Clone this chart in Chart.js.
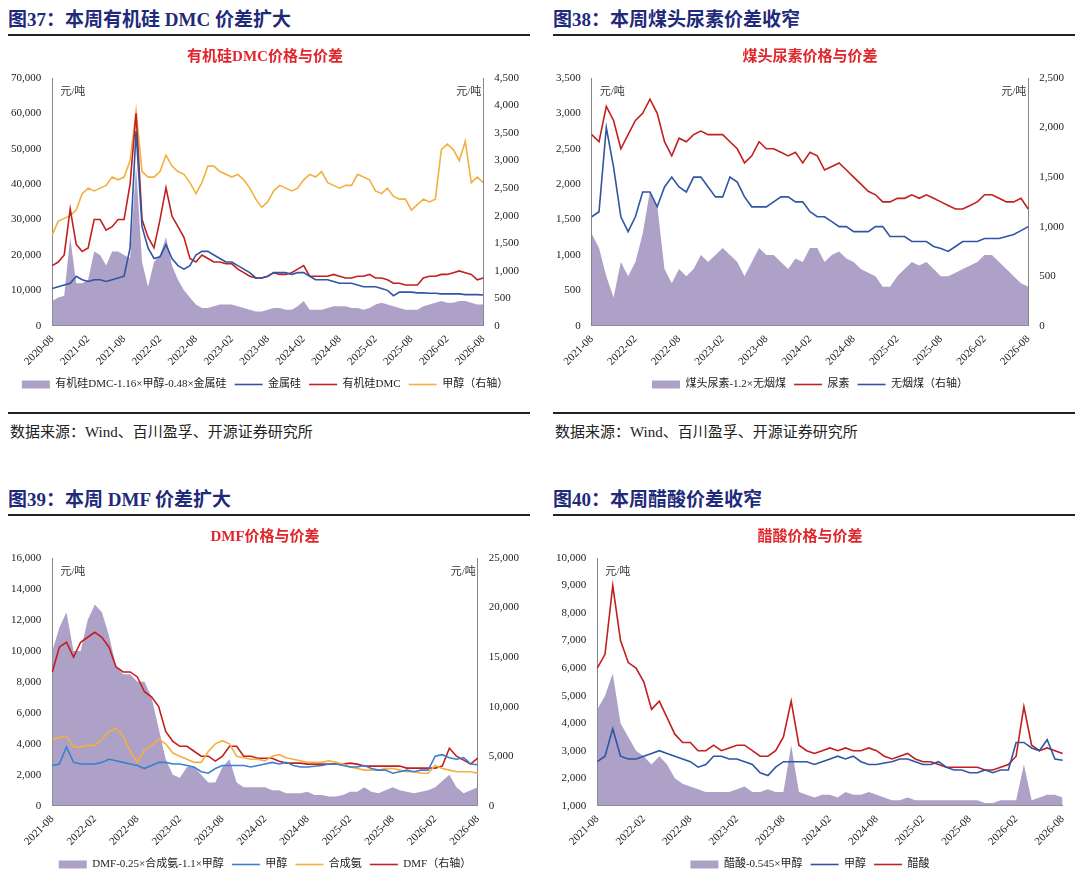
<!DOCTYPE html>
<html lang="zh">
<head>
<meta charset="UTF-8">
<title>价差周报</title>
<script src="https://cdn.jsdelivr.net/npm/chart.js"></script>
<style>
  body { margin: 0; width: 1080px; height: 885px; background: #fff; position: relative; font-family: "Liberation Serif", "Noto Sans CJK SC", serif; }
  .panel { position: absolute; width: 530px; height: 440px; }
  .panel h2 { margin: 0; position: absolute; left: 8px; top: 4px; font-size: 19px; color: #1f2a7a; font-weight: bold; }
  .panel .rule { position: absolute; left: 8px; right: 0; top: 34px; border-top: 2px solid #222; }
  .panel .cv { position: absolute; left: 0; top: 40px; width: 530px; height: 360px; }
  .panel .rule2 { position: absolute; left: 8px; right: 0; top: 412px; border-top: 2px solid #222; }
  .panel .src { position: absolute; left: 10px; top: 420px; font-size: 15px; color: #222; }
</style>
</head>
<body>
<script>
// ---- 图37 data (monthly, 2020-08 .. 2026-08)
const dmcLabels = [];
for (let y = 2020, m = 8; y < 2026 || m <= 8; ) { dmcLabels.push(y + '-' + String(m).padStart(2, '0')); m++; if (m > 12) { m = 1; y++; } }
const dmcSpread = [7000,8000,8500,25000,12000,
  12000,13000,21000,20000,17000,21000,21000,20000,19000,45000,18000,11000,
  18000,20000,25000,17000,13000,10000,8000,6000,5000,5000,5500,6000,
  6000,6000,5500,5000,4500,4000,4000,4500,5000,5000,4500,4500,
  5500,7000,4500,4500,4500,5000,5500,5500,5500,5000,5000,4500,
  5000,6000,6500,6000,5500,5000,4500,4500,4500,5500,6000,6500,
  7000,6500,6500,7000,7000,6500,6000,6000];
const siliconMetal = [10500,11000,11500,12000,14000,
  13000,12500,13000,13000,12500,13000,13500,14000,22000,55000,28000,22000,
  19000,19500,23000,19000,17000,16000,17000,20000,21000,21000,20000,19000,
  18000,18000,17000,16000,15000,13500,13500,14000,15000,15000,15000,14500,
  15000,15000,14000,13000,13000,13000,12500,12000,12000,12000,11500,11000,
  11000,11000,10500,10000,8500,9500,9500,9500,9300,9300,9200,9200,
  9000,9000,9000,9000,8800,8800,8800,8700];
const dmcPrice = [17000,18000,20000,33000,23000,
  21000,22000,30000,30000,27000,28000,30000,30000,40000,60000,30000,25000,
  22000,30000,39000,31000,28000,25000,19000,18000,20000,19000,18000,18000,
  17500,17500,16000,15000,14000,13500,13500,14000,15000,14500,14500,15000,
  16000,17000,14000,14000,14000,14000,14500,14000,13500,13500,14000,14000,
  14500,13500,13500,13000,12000,12000,11500,11500,11500,13500,14000,14000,
  14500,14500,15000,15500,15000,14500,13000,13500];
const methanolR = [1650,1900,1950,2000,2100,
  2400,2500,2450,2500,2550,2700,2650,2700,3000,3900,2800,2700,
  2700,2800,3100,2900,2800,2750,2600,2400,2600,2900,2900,2800,
  2750,2700,2750,2650,2500,2300,2150,2250,2450,2550,2500,2450,
  2500,2650,2750,2700,2800,2600,2550,2500,2550,2550,2750,2700,
  2650,2450,2400,2500,2350,2300,2300,2100,2200,2300,2250,2300,
  3200,3300,3200,3000,3350,2600,2700,2600];

// ---- 2021-08 .. 2026-08 labels
const labels21 = dmcLabels.slice(12);

// ---- 图38
const ureaSpread = [1300,1100,700,400,900,
  700,900,1300,1900,1700,800,600,800,700,800,1000,900,
  1000,1100,1000,900,700,900,1100,1000,1000,900,800,950,
  900,1100,1100,900,1000,1050,950,900,800,750,700,550,
  550,700,800,900,850,900,800,700,700,750,800,850,
  900,1000,1000,900,800,700,600,550];
const ureaPrice = [2700,2600,3100,2900,2500,
  2700,2900,3000,3200,3000,2600,2400,2650,2600,2700,2750,2700,
  2700,2700,2600,2500,2300,2400,2600,2500,2500,2450,2400,2450,
  2300,2450,2400,2200,2250,2300,2200,2100,2000,1900,1850,1750,
  1750,1800,1800,1850,1800,1850,1800,1750,1700,1650,1650,1700,
  1750,1850,1850,1800,1750,1750,1800,1650];
const anthracite = [1100,1150,2000,1600,1100,
  950,1100,1350,1350,1200,1400,1500,1400,1350,1500,1500,1400,
  1300,1300,1500,1450,1300,1200,1200,1200,1250,1300,1300,1250,
  1250,1150,1100,1100,1050,1000,1000,950,950,950,1000,1000,
  900,900,900,850,850,850,800,780,750,800,850,850,
  850,880,880,880,900,920,960,1000];

// ---- 图39
const dmfSpread = [10000,11500,12500,10000,10000,
  12000,13000,12500,11000,9000,8500,8500,8000,8000,7000,5000,3000,
  2000,1800,2500,2500,2000,1500,1500,2500,3000,1500,1200,1200,
  1200,1200,1000,1000,800,800,800,900,700,700,600,600,
  700,900,900,1200,900,800,1000,1200,1000,900,800,900,
  1000,1200,1600,2000,1200,800,1000,1200];
const methanolD = [2600,2700,3800,2800,2700,
  2700,2700,2800,3000,2900,2800,2700,2600,2400,2600,2800,2800,
  2700,2700,2600,2500,2200,2100,2400,2600,2600,2600,2600,2500,
  2600,2700,2800,2700,2800,2600,2500,2500,2550,2600,2700,2700,
  2600,2500,2500,2600,2400,2300,2300,2100,2200,2300,2200,2300,
  2300,3200,3300,3100,3000,3100,2700,2650];
const syngas = [4300,4400,4500,3800,3800,
  3900,3900,4300,4800,5000,4500,3500,2800,3600,3900,4300,4000,
  3400,3200,3000,2800,2800,3500,4000,4200,4000,3200,3100,3000,
  3000,2900,3200,3300,3100,3000,2900,2800,2800,2800,2900,2800,
  2700,2500,2400,2300,2300,2300,2400,2400,2300,2200,2200,2100,
  2100,2600,2400,2300,2200,2200,2200,2100];
const dmfPrice = [13500,16000,16500,15000,16500,
  17000,17500,17000,16000,14000,13500,13500,13000,11500,11000,10000,7500,
  6500,6000,6000,5500,5000,5000,4500,5000,6000,6000,5000,5000,
  4800,4800,4800,4500,4300,4300,4300,4200,4200,4200,4200,4200,
  4200,4300,4200,4000,4000,4000,4000,4000,4000,3800,3800,3800,
  3800,3800,4000,5800,5000,4600,4200,4800];

// ---- 图40
const aceticSpread = [4500,5000,5800,4000,3500,
  3000,2800,2500,2800,2500,2000,1800,1700,1600,1500,1500,1500,
  1500,1600,1700,1500,1500,1600,1500,1500,3200,1500,1400,1300,
  1400,1400,1300,1500,1400,1400,1500,1400,1300,1200,1200,1300,
  1200,1200,1200,1200,1200,1200,1200,1200,1200,1100,1100,1200,
  1200,1200,2500,1200,1300,1400,1400,1300];
const methanolA = [2600,2800,3800,2800,2700,
  2700,2800,2900,3000,2900,2800,2700,2600,2400,2500,2800,2800,
  2700,2700,2600,2500,2200,2100,2400,2600,2600,2600,2600,2500,
  2600,2700,2800,2700,2800,2600,2500,2500,2550,2600,2700,2700,
  2600,2500,2500,2600,2400,2300,2300,2200,2200,2300,2200,2300,
  2300,3300,3300,3100,3000,3400,2700,2650];
const aceticPrice = [6000,6500,9000,7000,6200,
  6000,5500,4500,4800,4200,3600,3300,3300,3000,3000,3200,3000,
  3100,3200,3200,3000,2800,2800,3000,3500,4800,3200,3000,2900,
  3000,3100,3000,3100,3000,3000,3100,3000,2800,2700,2800,2900,
  2700,2600,2600,2500,2400,2400,2400,2400,2400,2300,2300,2400,
  2500,2800,4600,3200,3000,3100,3000,2900];

const PURPLE = 'rgba(160,144,190,0.85)', BLUE = '#2f55a4', RED = '#c21f1f', ORANGE = '#f1b040', LBLUE = '#3a7fd0';
const FONT = '"Liberation Serif", "Noto Sans CJK SC", serif';
Chart.defaults.font.family = FONT;
Chart.defaults.color = '#222';
Chart.defaults.animation = false;

const panels = [
  { x: 0, y: 0, h: '图37：本周有机硅 DMC 价差扩大', t: '有机硅DMC价格与价差' },
  { x: 545, y: 0, h: '图38：本周煤头尿素价差收窄', t: '煤头尿素价格与价差' },
  { x: 0, y: 492, h: '图39：本周 DMF 价差扩大', t: 'DMF价格与价差' },
  { x: 545, y: 492, h: '图40：本周醋酸价差收窄', t: '醋酸价格与价差' }
];
const canvases = panels.map((p, i) => {
  const d = document.createElement('div');
  d.className = 'panel';
  d.style.left = p.x + 'px'; d.style.top = (i > 1 ? p.y - 12 : p.y) + 'px';
  d.innerHTML = `<h2>${p.h}</h2><div class="rule"></div><div class="cv"><canvas></canvas></div><div class="rule2"></div><div class="src">数据来源：Wind、百川盈孚、开源证券研究所</div>`;
  document.body.appendChild(d);
  return d.querySelector('canvas');
});

const unitPlugin = {
  id: 'unit',
  afterDraw(c, args, opts) {
    const ctx = c.ctx, a = c.chartArea;
    ctx.save(); ctx.font = '11px ' + FONT; ctx.fillStyle = '#333';
    ctx.textAlign = 'left'; ctx.fillText('元/吨', a.left + 8, a.top + 14);
    if (opts.right) { ctx.textAlign = 'right'; ctx.fillText('元/吨', a.right - 2, a.top + 14); }
    ctx.restore();
  }
};

function area(label, data, fill) {
  return { type: 'line', label, data, yAxisID: 'y', backgroundColor: PURPLE, borderColor: PURPLE, borderWidth: 0, pointRadius: 0, pointStyle: 'rect', fill: fill || 'origin', order: 5 };
}
function line(label, data, color, axis) {
  return { type: 'line', label, data, yAxisID: axis || 'y', borderColor: color, backgroundColor: color, borderWidth: 1.6, pointRadius: 0, pointStyle: 'line', tension: 0, fill: false };
}
const fmt = v => v.toLocaleString('en-US');

function makeChart(canvas, title, labels, datasets, yl, yr) {
  const scales = {
    x: {
      grid: { display: false, drawTicks: true, tickLength: 4 },
      border: { color: '#888' },
      ticks: { autoSkip: false, maxRotation: 45, minRotation: 45, font: { size: 11 },
        callback: (v, i) => (i % 6 === 0 ? labels[i] : '') }
    },
    y: { position: 'left', min: yl[0], max: yl[1], grid: { display: false }, border: { color: '#888' },
      ticks: { stepSize: yl[2], font: { size: 11 }, callback: fmt } }
  };
  if (yr) {
    scales.y2 = { position: 'right', min: yr[0], max: yr[1], grid: { display: false }, border: { color: '#888' },
      ticks: { stepSize: yr[2], font: { size: 11 }, callback: fmt } };
  }
  return new Chart(canvas, {
    data: { labels, datasets },
    plugins: [unitPlugin],
    options: {
      responsive: true, maintainAspectRatio: false,
      layout: { padding: { left: 8, right: 8 } },
      plugins: {
        unit: { right: !!yr },
        title: { display: true, text: title, color: '#e0262a', font: { size: 15, weight: 'bold' }, padding: { top: 8, bottom: 12 } },
        legend: { position: 'bottom', labels: { usePointStyle: true, pointStyleWidth: 28, boxHeight: 8, font: { size: 11 }, padding: 8,
          sort: (a, b) => a.datasetIndex - b.datasetIndex } },
        tooltip: { enabled: false }
      },
      scales
    }
  });
}

makeChart(canvases[0], panels[0].t, dmcLabels, [
  area('有机硅DMC-1.16×甲醇-0.48×金属硅', dmcSpread),
  line('金属硅', siliconMetal, BLUE),
  line('有机硅DMC', dmcPrice, RED),
  line('甲醇（右轴）', methanolR, ORANGE, 'y2')
], [0, 70000, 10000], [0, 4500, 500]);

makeChart(canvases[1], panels[1].t, labels21, [
  area('煤头尿素-1.2×无烟煤', ureaSpread),
  line('尿素', ureaPrice, RED),
  line('无烟煤（右轴）', anthracite, BLUE, 'y2')
], [0, 3500, 500], [0, 2500, 500]);

makeChart(canvases[2], panels[2].t, labels21, [
  area('DMF-0.25×合成氨-1.1×甲醇', dmfSpread),
  line('甲醇', methanolD, LBLUE),
  line('合成氨', syngas, ORANGE),
  line('DMF（右轴）', dmfPrice, RED, 'y2')
], [0, 16000, 2000], [0, 25000, 5000]);

makeChart(canvases[3], panels[3].t, labels21, [
  area('醋酸-0.545×甲醇', aceticSpread, 'start'),
  line('甲醇', methanolA, BLUE),
  line('醋酸', aceticPrice, RED)
], [1000, 10000, 1000], null);
</script>
</body>
</html>
